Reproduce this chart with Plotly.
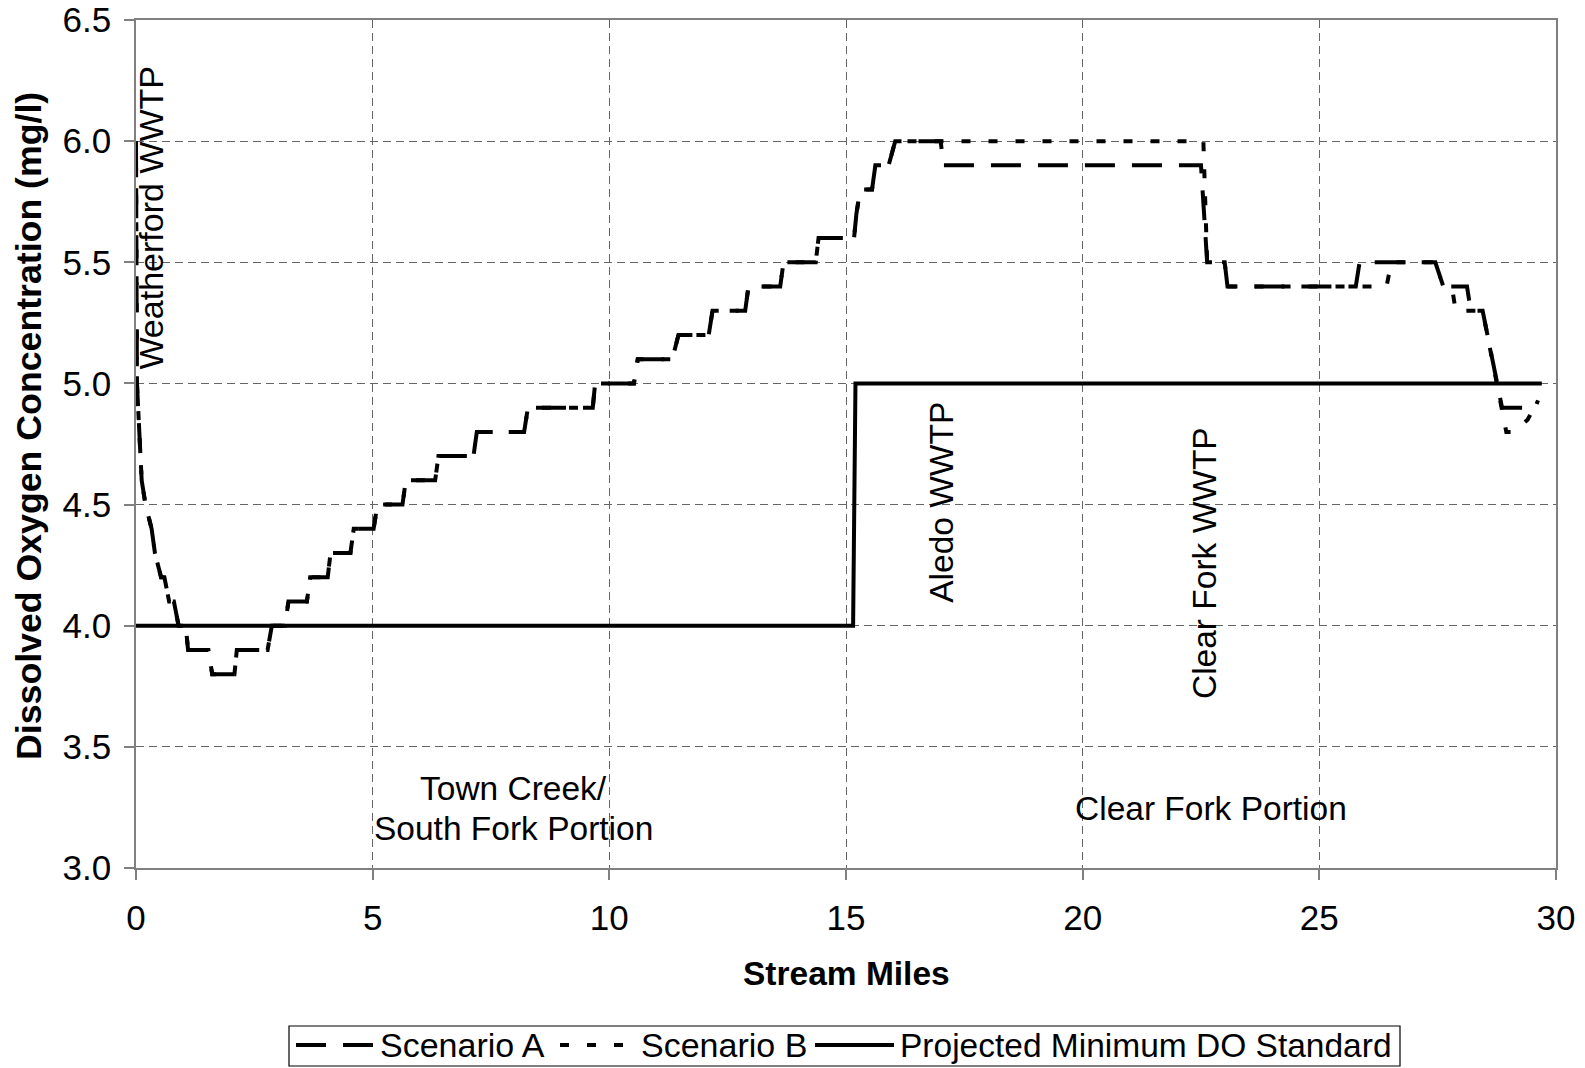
import plotly.graph_objects as go

# ---------------- data ----------------
a_miles = [0.00, 0.02, 0.12, 0.20, 0.33, 0.40, 0.53, 0.60, 0.70, 0.80, 0.90, 1.05, 1.10,
           1.53, 1.61, 2.08, 2.13, 2.78, 2.87, 3.15, 3.22, 3.61, 3.68, 4.05, 4.11, 4.53, 4.60,
           5.02, 5.10, 5.63, 5.70, 6.32, 6.39, 7.13, 7.20, 8.20, 8.28, 9.65, 9.70, 10.52, 10.60,
           11.33, 11.46, 12.10, 12.18, 12.87, 12.94, 13.61, 13.68, 14.36, 14.42, 15.17, 15.22,
           15.30, 15.55, 15.62, 15.90, 16.04, 17.00, 17.06, 22.50, 22.63, 23.00, 23.06, 25.77,
           25.85, 27.45, 27.62, 28.12, 28.20, 28.45, 28.86, 29.56, 29.62]
a_do = [6.0, 5.0, 4.6, 4.5, 4.4, 4.3, 4.2, 4.2, 4.1, 4.1, 4.0, 4.0, 3.9,
        3.9, 3.8, 3.8, 3.9, 3.9, 4.0, 4.0, 4.1, 4.1, 4.2, 4.2, 4.3, 4.3, 4.4,
        4.4, 4.5, 4.5, 4.6, 4.6, 4.7, 4.7, 4.8, 4.8, 4.9, 4.9, 5.0, 5.0, 5.1,
        5.1, 5.2, 5.2, 5.3, 5.3, 5.4, 5.4, 5.5, 5.5, 5.6, 5.6, 5.7,
        5.8, 5.8, 5.9, 5.9, 6.0, 6.0, 5.9, 5.9, 5.5, 5.5, 5.4, 5.4,
        5.5, 5.5, 5.4, 5.4, 5.3, 5.3, 4.9, 4.9, 4.93]

b_miles = [0.00, 0.02, 0.12, 0.20, 0.33, 0.40, 0.53, 0.60, 0.70, 0.80, 0.90, 1.05, 1.10,
           1.53, 1.61, 2.08, 2.13, 2.78, 2.87, 3.15, 3.22, 3.61, 3.68, 4.05, 4.11, 4.53, 4.60,
           5.02, 5.10, 5.63, 5.70, 6.32, 6.39, 7.13, 7.20, 8.20, 8.28, 9.65, 9.70, 10.52, 10.60,
           11.33, 11.46, 12.10, 12.18, 12.87, 12.94, 13.61, 13.68, 14.36, 14.42, 15.17, 15.22,
           15.30, 15.55, 15.62, 15.90, 16.04, 22.55, 22.63, 23.00, 23.06, 26.42, 26.52, 27.45,
           27.62, 27.80, 27.88, 28.45, 28.86, 28.95, 29.10, 29.40, 29.62]
b_do = [6.0, 5.0, 4.6, 4.5, 4.4, 4.3, 4.2, 4.2, 4.1, 4.1, 4.0, 4.0, 3.9,
        3.9, 3.8, 3.8, 3.9, 3.9, 4.0, 4.0, 4.1, 4.1, 4.2, 4.2, 4.3, 4.3, 4.4,
        4.4, 4.5, 4.5, 4.6, 4.6, 4.7, 4.7, 4.8, 4.8, 4.9, 4.9, 5.0, 5.0, 5.1,
        5.1, 5.2, 5.2, 5.3, 5.3, 5.4, 5.4, 5.5, 5.5, 5.6, 5.6, 5.7,
        5.8, 5.8, 5.9, 5.9, 6.0, 6.0, 5.5, 5.5, 5.4, 5.4, 5.5, 5.5,
        5.4, 5.4, 5.3, 5.3, 4.9, 4.8, 4.8, 4.85, 4.93]

std_miles = [0.0, 15.15, 15.2, 29.7]
std_do = [4.0, 4.0, 5.0, 5.0]

series_names = ["Scenario A", "Scenario B", "Projected Minimum DO Standard"]

x_ticks = [0, 5, 10, 15, 20, 25, 30]
y_ticks = [3.0, 3.5, 4.0, 4.5, 5.0, 5.5, 6.0, 6.5]

# ---------------- layout helpers ----------------
W, H = 1585, 1068
PX0, PX1 = 136, 1556          # plot area, page pixels
PY1, PY0 = 20, 868
FONT = "Liberation Sans, Arial, sans-serif"


def pxx(p):
    return (p - PX0) / (PX1 - PX0)


def pxy(p):
    return (PY0 - p) / (PY0 - PY1)


DASH_A = "30px,17px"
DASH_B = "9px,18px"
LW = 4

fig = go.Figure()
fig.add_trace(go.Scatter(x=std_miles, y=std_do, mode="lines", name=series_names[2],
                         line=dict(color="black", width=LW), showlegend=False))
fig.add_trace(go.Scatter(x=a_miles, y=a_do, mode="lines", name=series_names[0],
                         line=dict(color="black", width=LW, dash=DASH_A), showlegend=False))
fig.add_trace(go.Scatter(x=b_miles, y=b_do, mode="lines", name=series_names[1],
                         line=dict(color="black", width=LW, dash=DASH_B), showlegend=False))

axis_common = dict(
    showline=True, linecolor="#808080", linewidth=1.5, mirror=True,
    ticks="outside", ticklen=10, tickcolor="#808080", tickwidth=1.5,
    showgrid=True, gridcolor="#666666", gridwidth=1, griddash="8px,5px",
    zeroline=False, tickfont=dict(family=FONT, size=35, color="black"),
    ticklabeloverflow="allow",
)
fig.update_xaxes(range=[0, 30], tickvals=x_ticks, ticktext=[str(v) for v in x_ticks],
                 ticklabelstandoff=8, **axis_common)
fig.update_yaxes(range=[3.0, 6.5], tickvals=y_ticks, ticktext=[f"{v:.1f}" for v in y_ticks],
                 ticklabelstandoff=6, **axis_common)

ann = []
# axis titles
ann.append(dict(text="<b>Stream Miles</b>", xref="paper", yref="paper", x=0.5, y=pxy(973),
                showarrow=False, font=dict(family=FONT, size=33.5, color="black"),
                xanchor="center", yanchor="middle"))
ann.append(dict(text="<b>Dissolved Oxygen Concentration (mg/l)</b>", xref="paper", yref="paper",
                x=pxx(29), y=pxy(426), showarrow=False, textangle=-90,
                font=dict(family=FONT, size=35.7, color="black"), xanchor="center", yanchor="middle"))
# in-plot labels
lab_font = dict(family=FONT, size=33.5, color="black")
ann.append(dict(text="Weatherford WWTP", x=0.32, y=5.685, xref="x", yref="y", textangle=-90,
                showarrow=False, font=dict(family=FONT, size=34, color="black")))
ann.append(dict(text="Aledo WWTP", x=17.02, y=4.51, xref="x", yref="y", textangle=-90,
                showarrow=False, font=lab_font))
ann.append(dict(text="Clear Fork WWTP", x=22.57, y=4.26, xref="x", yref="y", textangle=-90,
                showarrow=False, font=lab_font))
ann.append(dict(text="Town Creek/", x=7.97, y=3.33, xref="x", yref="y",
                showarrow=False, font=lab_font))
ann.append(dict(text="South Fork Portion", x=7.97, y=3.165, xref="x", yref="y",
                showarrow=False, font=lab_font))
ann.append(dict(text="Clear Fork Portion", x=22.72, y=3.247, xref="x", yref="y",
                showarrow=False, font=lab_font))

# custom legend
shapes = []
ly = pxy(1045)
shapes.append(dict(type="rect", xref="paper", yref="paper", x0=pxx(289), x1=pxx(1400),
                   y0=pxy(1026), y1=pxy(1066), line=dict(color="black", width=1.2),
                   fillcolor="white", layer="above"))
leg_items = [(296, 376, DASH_A, 378, 34, series_names[0]),
             (560, 632, DASH_B, 639, 34, series_names[1]),
             (815, 894, "solid", 898, 33.5, series_names[2])]
for x0, x1, dash, tx, fs, name in leg_items:
    shapes.append(dict(type="line", xref="paper", yref="paper", x0=pxx(x0), x1=pxx(x1),
                       y0=ly, y1=ly, line=dict(color="black", width=LW, dash=dash)))
    ann.append(dict(text=name, xref="paper", yref="paper", x=pxx(tx), y=ly, xanchor="left",
                    yanchor="middle", showarrow=False,
                    font=dict(family=FONT, size=fs, color="black")))

fig.update_layout(
    width=W, height=H,
    margin=dict(l=PX0, r=W - PX1, t=PY1, b=H - PY0, autoexpand=False),
    paper_bgcolor="white", plot_bgcolor="white",
    font=dict(family=FONT, color="black"),
    annotations=ann, shapes=shapes, showlegend=False,
)

fig.write_html("out.html", config={"displayModeBar": False},
               post_script="document.body.style.margin='0';document.body.style.overflow='hidden';")
